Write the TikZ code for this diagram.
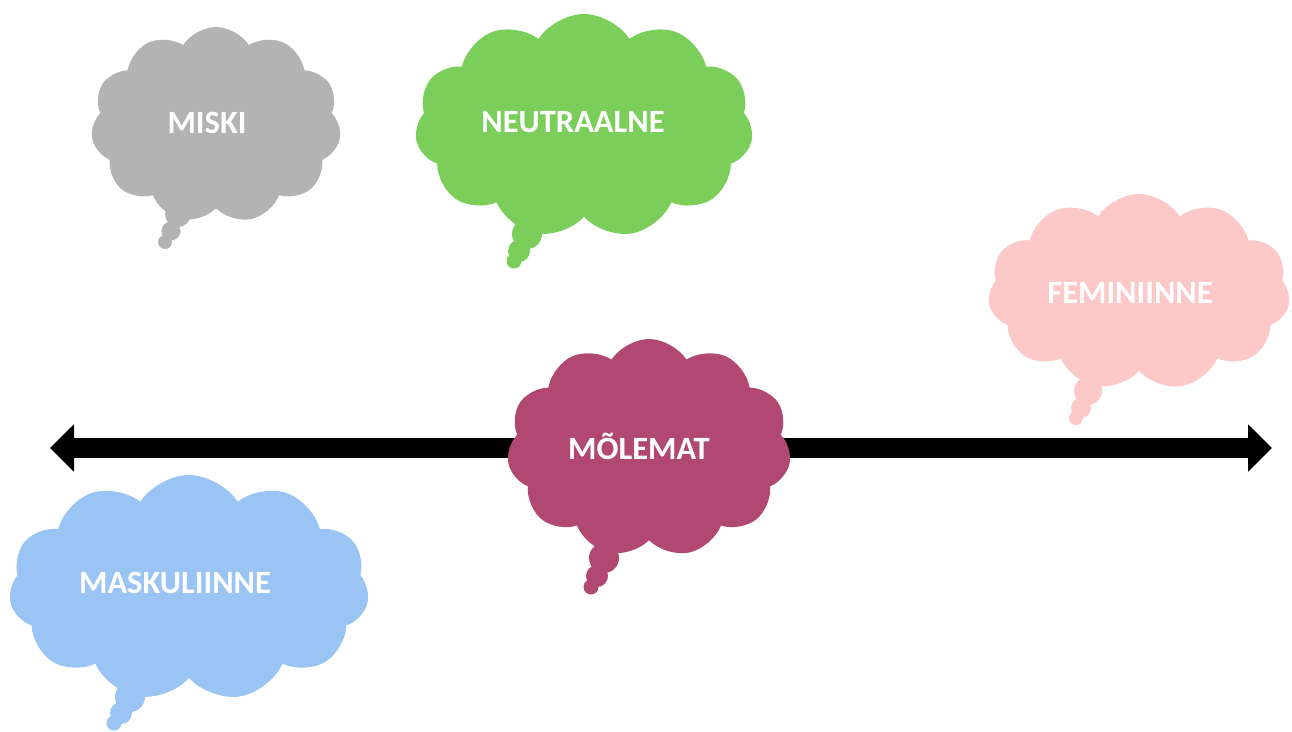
\documentclass[tikz,border=0pt]{standalone}
\usepackage{fontspec}
\setmainfont{Carlito}
\usetikzlibrary{shapes.symbols,arrows.meta}
\definecolor{miskigray}{RGB}{179,179,179}
\definecolor{neutgreen}{RGB}{124,206,91}
\definecolor{fempink}{RGB}{252,200,200}
\definecolor{molemagenta}{RGB}{176,72,114}
\definecolor{maskblue}{RGB}{154,196,243}
\tikzset{
  thought/.style={cloud, cloud puffs=11, cloud puff arc=115, cloud ignores aspect,
    fill=#1, draw=none, inner sep=0pt},
  puff/.style={circle, fill=#1, draw=none, inner sep=0pt},
  word/.style={text=white, inner sep=0pt, font=\fontsize{18.5}{20}\selectfont\bfseries}
}
\begin{document}
\begin{tikzpicture}[x=0.02cm, y=-0.02cm]
    \def\u{0.02cm}
    \useasboundingbox (0,0) rectangle (1292,731);
    % axis
    \coordinate (L) at (50,448);
    \coordinate (R) at (1272,448);
    \draw [line width=20*\u, {Triangle[length=24*\u, width=46*\u]}-{Triangle[length=24*\u, width=46*\u]}] (L) -- (R);
    % miski
    \node (miski) [thought=miskigray, minimum width=250*\u, minimum height=196*\u] at (216,125) {};
    \node (miski_1) [puff=miskigray, minimum size=26*\u] at (178,214) {};
    \node (miski_2) [puff=miskigray, minimum size=19*\u] at (171,231) {};
    \node (miski_3) [puff=miskigray, minimum size=14*\u] at (165,242) {};
    \node (miski_t) [word] at (207,123) {MISKI};
    % neutraalne
    \node (neut) [thought=neutgreen, minimum width=338*\u, minimum height=224*\u] at (584,126) {};
    \node (neut_1) [puff=neutgreen, minimum size=30*\u] at (527,234) {};
    \node (neut_2) [puff=neutgreen, minimum size=22*\u] at (519,251) {};
    \node (neut_3) [puff=neutgreen, minimum size=15*\u] at (514,261) {};
    \node (neut_t) [word] at (573,122) {NEUTRAALNE};
    % feminiinne
    \node (fem) [thought=fempink, minimum width=302*\u, minimum height=196*\u] at (1139,292) {};
    \node (fem_1) [puff=fempink, minimum size=28*\u] at (1088,391) {};
    \node (fem_2) [puff=fempink, minimum size=20*\u] at (1081,408) {};
    \node (fem_3) [puff=fempink, minimum size=14*\u] at (1076,418) {};
    \node (fem_t) [word] at (1130,293) {FEMINIINNE};
    % molemat
    \node (mole) [thought=molemagenta, minimum width=284*\u, minimum height=218*\u] at (649,448) {};
    \node (mole_1) [puff=molemagenta, minimum size=30*\u] at (604,558) {};
    \node (mole_2) [puff=molemagenta, minimum size=22*\u] at (597,576) {};
    \node (mole_3) [puff=molemagenta, minimum size=15*\u] at (591,587) {};
    \node (mole_t) [word] at (639,446) {MÕLEMAT};
    % maskuliinne
    \node (mask) [thought=maskblue, minimum width=360*\u, minimum height=226*\u] at (189,588) {};
    \node (mask_1) [puff=maskblue, minimum size=30*\u] at (130,697) {};
    \node (mask_2) [puff=maskblue, minimum size=22*\u] at (121,713) {};
    \node (mask_3) [puff=maskblue, minimum size=15*\u] at (114,723) {};
    \node (mask_t) [word] at (175,583) {MASKULIINNE};
\end{tikzpicture}
\end{document}
